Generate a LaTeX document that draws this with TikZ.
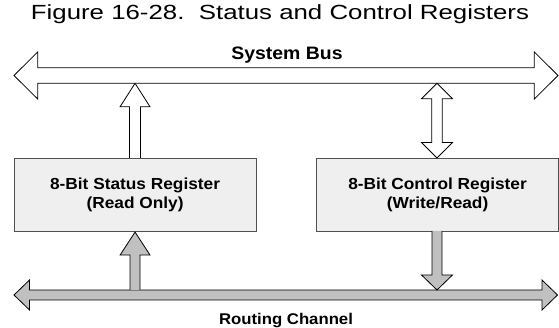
\documentclass[tikz,border=0pt]{standalone}
\usepackage{fontspec}
\setmainfont{Liberation Sans}
\usetikzlibrary{calc}
\definecolor{arrowgray}{HTML}{C0C0C0}
\definecolor{boxfill}{HTML}{EFEFEF}
\definecolor{boxline}{HTML}{505050}
\tikzset{
  regbox/.style={draw=boxline, line width=1.1pt, fill=boxfill, anchor=north west,
    minimum width=242pt, minimum height=73pt, inner sep=0pt, align=center,
    font=\bfseries\fontsize{16}{18.5}\selectfont},
  whitearrow/.style={draw=black, line width=0.8pt, fill=white, line join=miter},
  grayarrow/.style={draw=black, line width=0.8pt, fill=arrowgray, line join=miter},
  lbl/.style={inner sep=0pt, anchor=base}
}
\begin{document}
\begin{tikzpicture}[x=1pt,y=-1pt]
\useasboundingbox (0,0) rectangle (559,328);
% title
\node[lbl, font=\fontsize{20.5}{22}\selectfont] (title) at (280,20) {\scalebox{1.26}[1]{Figure 16-28.\ \ Status and Control Registers}};
% bus end points
\coordinate (busL) at (14,75.5);
\coordinate (busR) at (558,75.5);
\coordinate (rcL) at (14,295);
\coordinate (rcR) at (557.5,295);
% registers
\node[regbox] (status) at (13.5,158) {\scalebox{1.08}[1]{8-Bit Status Register}\\\scalebox{1.08}[1]{(Read Only)}};
\node[regbox] (control) at (316,158) {\scalebox{1.08}[1]{8-Bit Control Register}\\\scalebox{1.08}[1]{(Write/Read)}};
% system bus (double arrow)
\draw[whitearrow] (busL) -- ($(busL)+(23.7,-23.5)$) -- ($(busL)+(23.7,-7.8)$)
  -- ($(busR)+(-23.7,-7.8)$) -- ($(busR)+(-23.7,-23.5)$) -- (busR)
  -- ($(busR)+(-23.7,23.5)$) -- ($(busR)+(-23.7,7.8)$)
  -- ($(busL)+(23.7,7.8)$) -- ($(busL)+(23.7,23.5)$) -- cycle;
\node[lbl, font=\bfseries\fontsize{18}{20}\selectfont] (sysbus) at (287,60) {\scalebox{1.08}[1]{System Bus}};
% routing channel (double arrow)
\draw[grayarrow] (rcL) -- ($(rcL)+(15.5,-15)$) -- ($(rcL)+(15.5,-5)$)
  -- ($(rcR)+(-15.5,-5)$) -- ($(rcR)+(-15.5,-15)$) -- (rcR)
  -- ($(rcR)+(-15.5,15)$) -- ($(rcR)+(-15.5,5)$)
  -- ($(rcL)+(15.5,5)$) -- ($(rcL)+(15.5,15)$) -- cycle;
\node[lbl, font=\bfseries\fontsize{15.5}{18}\selectfont] (routing) at (286,324) {\scalebox{1.08}[1]{Routing Channel}};
% arrow tips/tails on buses
\coordinate (stTip) at (status.north |- 0,83.3);
\coordinate (ctTip) at (437,83.3);
\coordinate (ctBot) at (437,158);
\coordinate (srTail) at (status.south |- 0,290);
\coordinate (crTip) at (437,290);
% status -> system bus (white, up)
\draw[whitearrow] ($(status.north)+(-5.5,0)$) -- ($(stTip)+(-5.5,23.5)$) -- ($(stTip)+(-15,23.5)$)
  -- (stTip) -- ($(stTip)+(15,23.5)$) -- ($(stTip)+(5.5,23.5)$) -- ($(status.north)+(5.5,0)$);
% control <-> system bus (white, double)
\draw[whitearrow] (ctTip) -- ($(ctTip)+(15.5,15.5)$) -- ($(ctTip)+(5.2,15.5)$)
  -- ($(ctBot)+(5.2,-15.5)$) -- ($(ctBot)+(15.5,-15.5)$) -- (ctBot)
  -- ($(ctBot)+(-15.5,-15.5)$) -- ($(ctBot)+(-5.2,-15.5)$)
  -- ($(ctTip)+(-5.2,15.5)$) -- ($(ctTip)+(-15.5,15.5)$) -- cycle;
% routing -> status (gray, up)
\draw[grayarrow] ($(srTail)+(-5,0)$) -- ($(status.south)+(-5,23)$) -- ($(status.south)+(-15,23)$)
  -- (status.south) -- ($(status.south)+(15,23)$) -- ($(status.south)+(5,23)$) -- ($(srTail)+(5,0)$);
% control -> routing (gray, down)
\coordinate (ctS) at (437,231);
\draw[grayarrow] ($(ctS)+(-5,0)$) -- ($(crTip)+(-5,-15)$) -- ($(crTip)+(-15.5,-15)$)
  -- (crTip) -- ($(crTip)+(15.5,-15)$) -- ($(crTip)+(5,-15)$) -- ($(ctS)+(5,0)$);
\end{tikzpicture}
\end{document}
